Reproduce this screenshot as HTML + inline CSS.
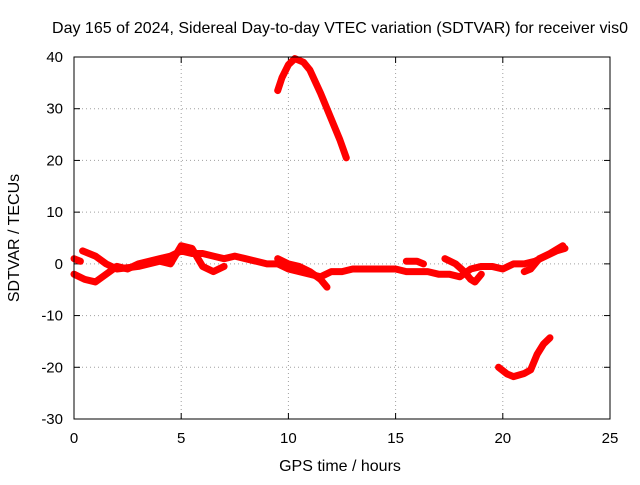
<!DOCTYPE html>
<html><head><meta charset="utf-8"><style>
body{margin:0;background:#fff;}
svg text{font-family:"Liberation Sans",sans-serif;font-size:15px;fill:#000;}
</style></head><body>
<svg id="chart" width="640" height="480" xmlns="http://www.w3.org/2000/svg">
<rect width="640" height="480" fill="#fff"/>
<text x="340" y="33" text-anchor="middle" style="font-size:16px">Day 165 of 2024, Sidereal Day-to-day VTEC variation (SDTVAR) for receiver vis0</text>
<g id="grid"></g>
<g id="ticks"></g>
<g id="series"></g>
<rect x="74" y="57" width="536" height="362" fill="none" stroke="#000" stroke-width="1"/>
<text transform="translate(19,238) rotate(-90)" text-anchor="middle" style="font-size:16px">SDTVAR / TECUs</text>
<text x="340" y="471" text-anchor="middle" style="font-size:16px">GPS time / hours</text>
</svg>
<script>
const xTicks=[0,5,10,15,20,25];
const yTicks=[-30,-20,-10,0,10,20,30,40];
const trackUpper=[[9.5,33.5],[9.7,36],[10,38.5],[10.3,39.7],[10.7,39],[11,37.5],[11.5,33],[12,28],[12.4,24],[12.7,20.5]];
const trackLower=[[19.8,-20],[20.2,-21.3],[20.5,-21.8],[21,-21.2],[21.3,-20.5],[21.6,-17.5],[21.9,-15.5],[22.2,-14.3]];
const trackA=[[0,-2],[0.5,-3],[1,-3.5],[1.5,-2],[2,-0.5],[2.5,-1],[3,0],[3.5,0.5],[4,1],[4.5,1.5],[5,2.5],[5.5,2],[6,2],[6.5,1.5],[7,1],[7.5,1.5],[8,1],[8.5,0.5],[9,0],[9.5,0],[10,-1],[10.5,-1.5],[11,-2],[11.5,-2.5],[12,-1.5],[12.5,-1.5],[13,-1],[13.5,-1],[14,-1],[14.5,-1],[15,-1],[15.5,-1.5],[16,-1.5],[16.5,-1.5],[17,-2],[17.5,-2],[18,-2.5],[18.5,-1],[19,-0.5],[19.5,-0.5],[20,-1],[20.5,0],[21,0],[21.5,0.5],[22,1.5],[22.5,2.5],[22.9,3]];
const trackB=[[0.4,2.5],[1,1.5],[1.5,0],[2,-1],[3,-0.5],[4,0.5],[4.5,0],[5,3.5],[5.5,3],[6,-0.5],[6.5,-1.5],[7,-0.5]];
const trackC=[[9.5,1],[10,0],[10.5,-0.5],[11,-1.5],[11.5,-3],[11.8,-4.5]];
const trackD=[[15.5,0.5],[16,0.5],[16.3,0]];
const trackE=[[17.3,1],[17.8,0],[18.2,-1.5],[18.5,-3],[18.7,-3.5],[19,-2]];
const trackF=[[0,1],[0.3,0.5]];
const trackG=[[21,-1.5],[21.3,-1],[21.7,1],[22.2,2],[22.8,3.5]];
const tracks=[trackUpper,trackLower,trackA,trackB,trackC,trackD,trackE,trackF,trackG];
const NS='http://www.w3.org/2000/svg';
const x=v=>74+v*536/25;
const y=v=>419-(v+30)*362/70;
const grid=document.getElementById('grid'),ticks=document.getElementById('ticks'),ser=document.getElementById('series');
function mk(tag,attrs,parent){const e=document.createElementNS(NS,tag);for(const k in attrs)e.setAttribute(k,attrs[k]);parent.appendChild(e);return e;}
xTicks.forEach(t=>{
 if(t>0&&t<25){const g=mk('line',{x1:x(t),x2:x(t),y1:57,y2:419,stroke:'#a0a0a0','stroke-dasharray':'1,3'},grid);
 
 }
 mk('line',{x1:x(t),x2:x(t),y1:419,y2:413,stroke:'#000'},ticks);
 mk('line',{x1:x(t),x2:x(t),y1:57,y2:63,stroke:'#000'},ticks);
 const l=mk('text',{x:x(t),y:443,'text-anchor':'middle'},ticks);l.textContent=t;
 
 
});
yTicks.forEach(t=>{
 if(t>-30&&t<40){const g=mk('line',{x1:74,x2:610,y1:y(t),y2:y(t),stroke:'#a0a0a0','stroke-dasharray':'1,3'},grid);
 
 }
 mk('line',{x1:74,x2:80,y1:y(t),y2:y(t),stroke:'#000'},ticks);
 mk('line',{x1:610,x2:604,y1:y(t),y2:y(t),stroke:'#000'},ticks);
 const l=mk('text',{x:63,y:y(t)+5,'text-anchor':'end'},ticks);l.textContent=t;
 
 
});
tracks.forEach(tr=>{
 const p=mk('polyline',{points:tr.map(d=>x(d[0])+','+y(d[1])).join(' '),fill:'none',stroke:'#ff0000','stroke-width':7,'stroke-linejoin':'round','stroke-linecap':'round'},ser);
 
 
});
</script>
</body></html>
